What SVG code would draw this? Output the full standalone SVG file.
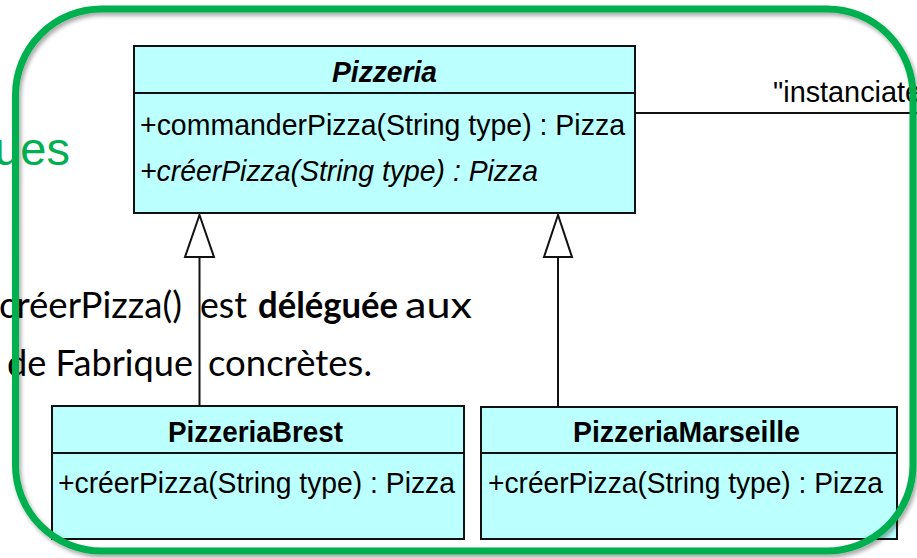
<svg xmlns="http://www.w3.org/2000/svg" width="917" height="558" viewBox="0 0 917 558">
  <style>
    .cls { fill: #bbffff; stroke: #111; stroke-width: 2; }
    .sep { stroke: #111; stroke-width: 2; }
    .uml { font-family: "Liberation Sans", Arial, sans-serif; font-size: 29px; fill: #000; }
    .title { font-weight: bold; }
    .body { font-family: Lato, "Liberation Sans", sans-serif; font-size: 36px; fill: #000; }
    .conn { stroke: #111; stroke-width: 2; fill: none; }
    .head { fill: #fff; stroke: #111; stroke-width: 2; stroke-linejoin: miter; }
  </style>
  <defs>
    <filter id="shadow" x="-5%" y="-5%" width="110%" height="110%">
      <feDropShadow dx="2" dy="3" stdDeviation="2" flood-color="#000" flood-opacity="0.35"/>
    </filter>
  </defs>

  <rect width="917" height="558" fill="#fff"/>

  <!-- slide text behind the frame -->
  <text x="70" y="165" text-anchor="end" font-family="'Liberation Sans', Arial, sans-serif" font-size="47" fill="#00b050">ues</text>
  <text class="body" y="318">
    <tspan x="-1" textLength="183" lengthAdjust="spacingAndGlyphs">créerPizza()</tspan>
    <tspan x="200" textLength="47" lengthAdjust="spacingAndGlyphs">est</tspan>
    <tspan x="258" textLength="140" lengthAdjust="spacingAndGlyphs" font-weight="bold">déléguée</tspan>
    <tspan x="405" textLength="67" lengthAdjust="spacingAndGlyphs">aux</tspan>
  </text>
  <text class="body" y="376">
    <tspan x="7" textLength="186" lengthAdjust="spacingAndGlyphs">de Fabrique</tspan>
    <tspan x="208" textLength="164" lengthAdjust="spacingAndGlyphs">concrètes.</tspan>
  </text>

  <!-- connectors -->
  <g id="connectors">
    <line class="conn" x1="635" y1="113" x2="917" y2="113"/>
    <text x="773" y="102" class="uml" font-size="26" textLength="148" lengthAdjust="spacingAndGlyphs">"instanciate</text>
    <line class="conn" x1="199.5" y1="257" x2="199.5" y2="406"/>
    <polygon class="head" points="199.5,215 185,257 214,257"/>
    <line class="conn" x1="558" y1="257" x2="558" y2="407"/>
    <polygon class="head" points="558,215 544,257 572,257"/>
  </g>

  <!-- abstract creator -->
  <g id="pizzeria">
    <rect class="cls" x="134" y="46" width="501" height="167"/>
    <line class="sep" x1="134" y1="93" x2="635" y2="93"/>
    <text class="uml title" x="332" y="82" font-style="italic" textLength="105" lengthAdjust="spacingAndGlyphs">Pizzeria</text>
    <text class="uml" x="140" y="135" textLength="485" lengthAdjust="spacingAndGlyphs">+commanderPizza(String type) : Pizza</text>
    <text class="uml" x="140" y="181" font-style="italic" textLength="398" lengthAdjust="spacingAndGlyphs">+créerPizza(String type) : Pizza</text>
  </g>

  <!-- concrete creators -->
  <g id="pizzeria-brest">
    <rect class="cls" x="52" y="406" width="412" height="133"/>
    <line class="sep" x1="52" y1="453" x2="464" y2="453"/>
    <text class="uml title" x="168" y="442" textLength="175" lengthAdjust="spacingAndGlyphs">PizzeriaBrest</text>
    <text class="uml" x="58" y="493" textLength="397" lengthAdjust="spacingAndGlyphs">+créerPizza(String type) : Pizza</text>
  </g>

  <g id="pizzeria-marseille">
    <rect class="cls" x="481" y="407" width="416" height="132"/>
    <line class="sep" x1="481" y1="453" x2="897" y2="453"/>
    <text class="uml title" x="573" y="442" textLength="227" lengthAdjust="spacingAndGlyphs">PizzeriaMarseille</text>
    <text class="uml" x="488" y="493" textLength="395" lengthAdjust="spacingAndGlyphs">+créerPizza(String type) : Pizza</text>
  </g>

  <!-- highlight frame -->
  <rect x="15.5" y="9" width="897.5" height="542" rx="86" ry="86" fill="none" stroke="#00b050" stroke-width="7" filter="url(#shadow)"/>
</svg>
